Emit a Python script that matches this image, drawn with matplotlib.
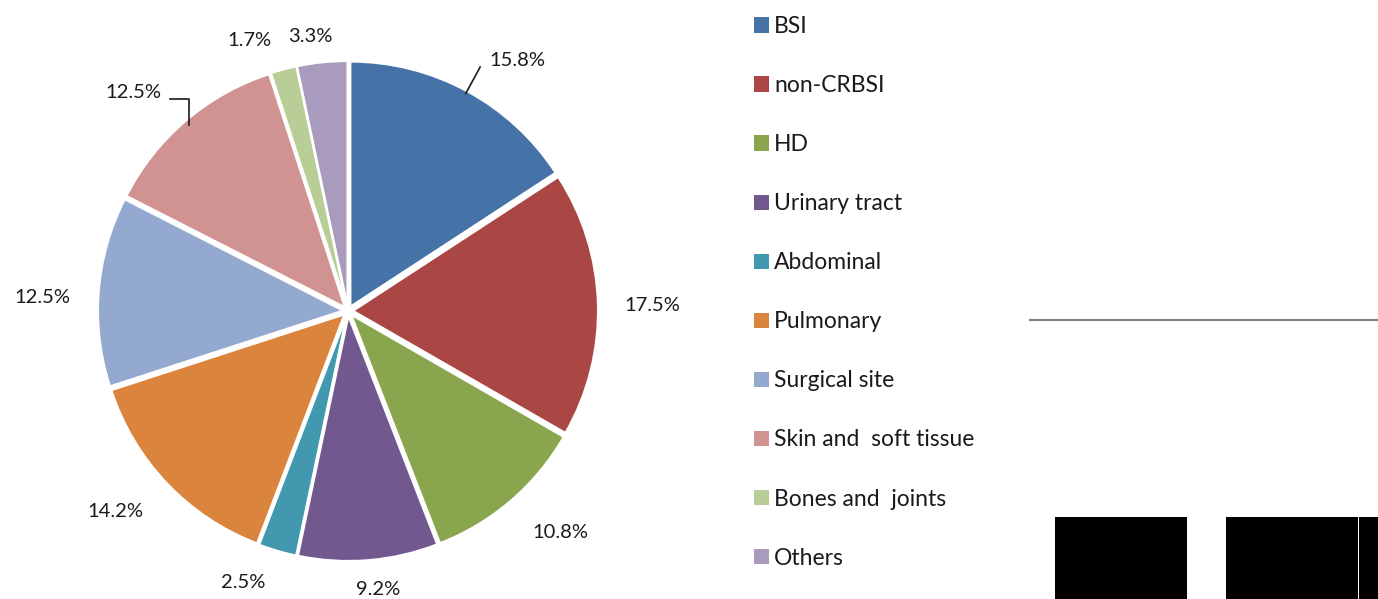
import matplotlib
matplotlib.use("Agg")
import matplotlib.pyplot as plt
import numpy as np
from matplotlib.patches import Rectangle, Patch
from matplotlib.lines import Line2D

categories = ["BSI", "non-CRBSI", "HD", "Urinary tract", "Abdominal", "Pulmonary",
              "Surgical site", "Skin and  soft tissue", "Bones and  joints", "Others"]
values = [15.8, 17.5, 10.8, 9.2, 2.5, 14.2, 12.5, 12.5, 1.7, 3.3]
colors = ["#4572A7", "#AA4643", "#89A54E", "#71588F", "#4198AF", "#DB843D",
          "#93A9CF", "#D19392", "#B9CD96", "#A99BBD"]

# label placement (style): radius factor and angle offset from slice middle
label_r = [1.210, 1.216, 1.225, 1.122, 1.165, 1.231, 1.225, 1.225, 1.152, 1.110]
label_dang = [-5.6, -0.5, 3.1, 1.4, -4.8, -2.8, 1.9, 4.1, 5.0, 1.8]

plt.rcParams['font.family'] = ['Lato', 'DejaVu Sans']

W, H = 1378, 599
fig = plt.figure(figsize=(W / 100, H / 100), dpi=100)
R = 250.0
cx, cy = 348, 311
half = 300
ax = fig.add_axes([(cx - half) / W, (H - cy - half) / H, 2 * half / W, 2 * half / H])

wedges, _ = ax.pie(values, colors=colors, startangle=90, counterclock=False,
                   explode=[0.02] * len(values), radius=0.98,
                   wedgeprops=dict(edgecolor='white', linewidth=1.5))
lim = half / R
ax.set_xlim(-lim, lim)
ax.set_ylim(-lim, lim)
ax.set_aspect('equal')
ax.axis('off')

total = sum(values)
cum = 0
for i, v in enumerate(values):
    mid = 90 - (cum + v / 2) / total * 360
    cum += v
    a = np.deg2rad(mid + label_dang[i])
    x, y = label_r[i] * np.cos(a), label_r[i] * np.sin(a)
    ax.text(x, y, f"{v:.1f}%", ha='center', va='center', fontsize=14.5, color='#1a1a1a')
    if i == 0:
        m = np.deg2rad(mid)
        ax.plot([0.99 * np.cos(m), 1.11 * np.cos(m)], [0.99 * np.sin(m), 1.11 * np.sin(m)],
                color='#1a1a1a', lw=1.2)
    if i == 7:
        m = np.deg2rad(mid)
        x0, y0 = 0.98 * np.cos(m), 0.98 * np.sin(m)
        ax.plot([x0, x0, x0 - 19 / R], [y0, 212 / R, 212 / R], color='#1a1a1a', lw=1.2)

handles = [Patch(facecolor=c, edgecolor='none') for c in colors]
leg = fig.legend(handles, categories, loc='upper left',
                 bbox_to_anchor=(745 / W, 1 - 7 / H), frameon=False,
                 fontsize=16.5, handlelength=0.66, handleheight=0.66,
                 handletextpad=0.22, labelspacing=1.66, borderaxespad=0)
for t in leg.get_texts():
    t.set_color('#1a1a1a')

fig.add_artist(Line2D([1030 / W, 1.0], [1 - 320 / H] * 2, color='#808080', lw=1.5,
                      transform=fig.transFigure))
for (x0, x1) in [(1055, 1187), (1226, 1358), (1359, 1378)]:
    fig.add_artist(Rectangle((x0 / W, 0), (x1 - x0) / W, (599 - 517) / H,
                             facecolor='black', edgecolor='none', transform=fig.transFigure))

fig.savefig("out.png", dpi=100)
